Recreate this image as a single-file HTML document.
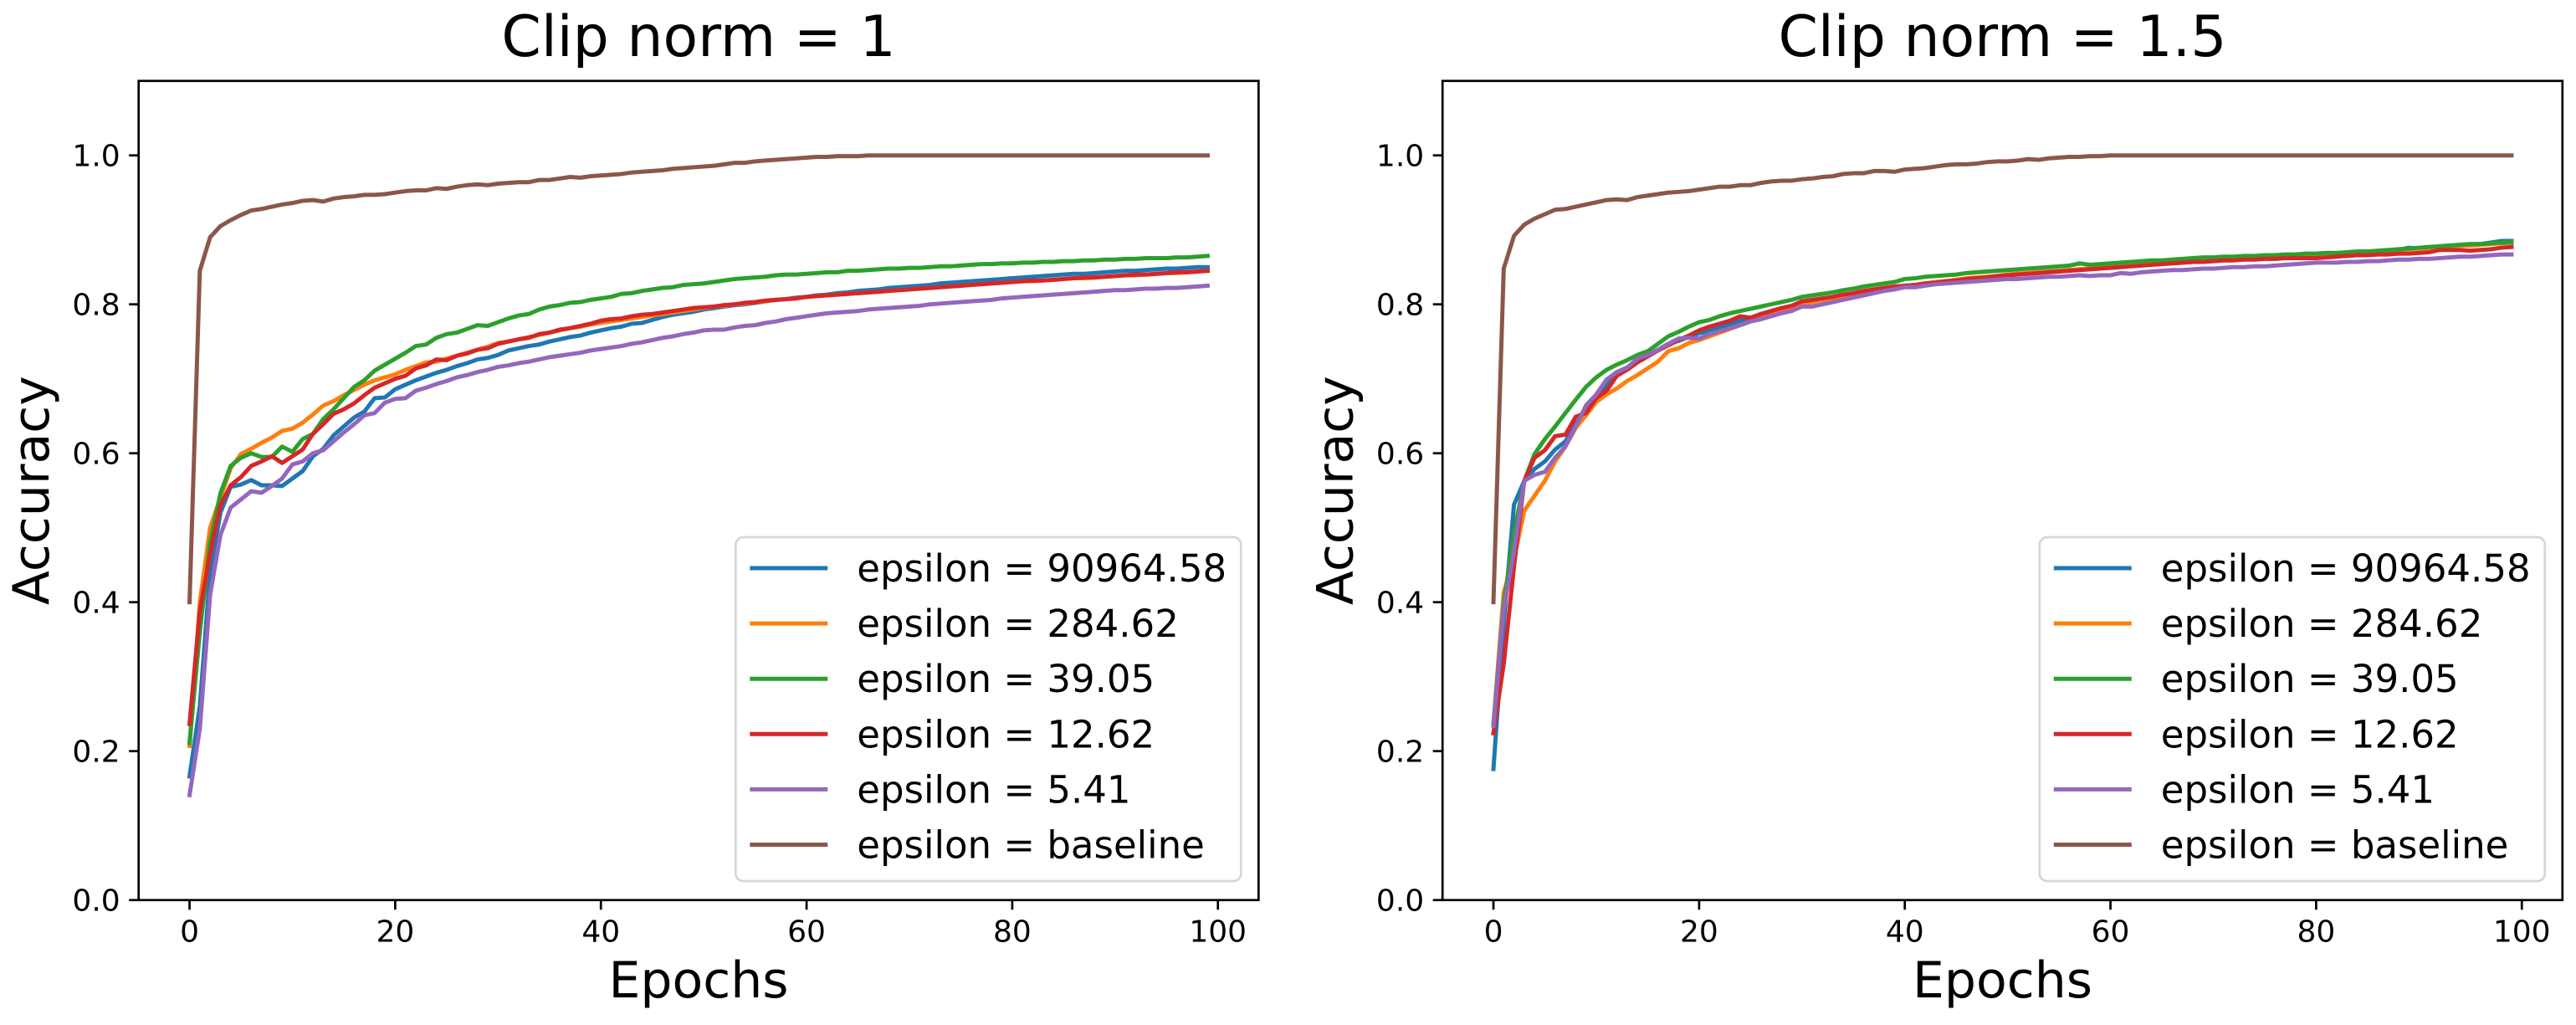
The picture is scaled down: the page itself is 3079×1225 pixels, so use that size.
<!DOCTYPE html>
<html><head><meta charset="utf-8">
<style>
html,body{margin:0;padding:0;background:#fff;}
svg{display:block;font-family:"DejaVu Sans","Liberation Sans",sans-serif;}
</style></head>
<body>
<svg id="fig" width="3079" height="1225" viewBox="0 0 3079 1225" xmlns="http://www.w3.org/2000/svg"></svg>
<script>
const epochs = Array.from({length:100},(_, i)=>i);
const seriesLabels = ["epsilon = 90964.58","epsilon = 284.62","epsilon = 39.05","epsilon = 12.62","epsilon = 5.41","epsilon = baseline"];
const seriesColors = ["#1f77b4","#ff7f0e","#2ca02c","#d62728","#9467bd","#8c564b"];
const xTicks = [0,20,40,60,80,100];
const yTicks = [0,0.2,0.4,0.6,0.8,1.0];
const yTickLabels = ["0.0","0.2","0.4","0.6","0.8","1.0"];
const panelTitles = ["Clip norm = 1","Clip norm = 1.5"];

const c1Blue = [.166,.26,.44,.52,.555,.558,.564,.557,.557,.556,.566,.576,.596,.606,.624,.636,.648,.656,.674,.675,.686,.692,.698,.703,.708,.712,.717,.721,.726,.728,.732,.738,.741,.744,.746,.750,.753,.756,.758,.762,.765,.768,.770,.774,.775,.779,.783,.786,.788,.790,.793,.795,.797,.799,.800,.802,.804,.806,.807,.809,.810,.812,.813,.815,.816,.818,.819,.820,.822,.823,.824,.825,.826,.828,.829,.830,.831,.832,.833,.834,.835,.836,.837,.838,.839,.840,.841,.841,.842,.843,.844,.845,.845,.846,.847,.848,.848,.849,.850,.850];
const c1Orange = [.207,.40,.50,.54,.58,.599,.606,.614,.621,.630,.633,.641,.652,.664,.670,.678,.685,.692,.698,.702,.706,.712,.717,.722,.723,.727,.731,.735,.739,.743,.748,.750,.753,.756,.759,.762,.765,.768,.770,.773,.775,.777,.779,.781,.783,.785,.787,.789,.791,.793,.795,.797,.798,.800,.801,.803,.804,.806,.807,.808,.810,.811,.812,.813,.814,.815,.816,.817,.818,.819,.820,.821,.822,.823,.824,.825,.826,.827,.828,.829,.830,.831,.831,.832,.833,.834,.835,.835,.836,.837,.838,.839,.839,.840,.841,.842,.842,.843,.844,.845];
const c1Green = [.211,.36,.48,.546,.583,.594,.600,.595,.595,.609,.602,.619,.626,.646,.659,.674,.689,.698,.711,.719,.727,.735,.744,.746,.755,.760,.762,.767,.772,.771,.776,.781,.785,.787,.793,.797,.799,.802,.803,.806,.808,.810,.814,.815,.818,.820,.822,.823,.826,.827,.828,.830,.832,.834,.835,.836,.837,.839,.840,.840,.841,.842,.843,.843,.845,.845,.846,.847,.848,.848,.849,.849,.850,.851,.851,.852,.853,.854,.854,.855,.855,.856,.856,.857,.857,.858,.858,.859,.859,.860,.860,.861,.861,.862,.862,.862,.863,.863,.864,.865];
const c1Red = [.2365,.388,.465,.53,.557,.568,.583,.589,.596,.587,.596,.605,.626,.639,.653,.659,.667,.678,.688,.694,.700,.704,.714,.718,.726,.725,.731,.734,.739,.741,.747,.750,.753,.755,.760,.762,.766,.768,.771,.774,.778,.780,.781,.784,.786,.787,.789,.791,.793,.795,.796,.797,.799,.800,.802,.803,.805,.806,.807,.808,.810,.811,.812,.813,.814,.815,.816,.817,.818,.819,.820,.821,.822,.823,.824,.825,.826,.827,.828,.829,.830,.831,.832,.832,.833,.834,.835,.836,.836,.837,.838,.839,.840,.840,.841,.842,.843,.843,.844,.845];
const c1Purple = [.141,.23,.41,.49,.527,.538,.549,.547,.556,.566,.585,.589,.600,.604,.616,.628,.639,.651,.654,.668,.673,.674,.684,.688,.693,.697,.702,.705,.709,.712,.716,.718,.721,.723,.726,.729,.731,.733,.735,.738,.740,.742,.744,.747,.749,.752,.755,.757,.760,.762,.765,.766,.766,.769,.771,.772,.775,.777,.780,.782,.784,.786,.788,.789,.790,.791,.793,.794,.795,.796,.797,.798,.800,.801,.802,.803,.804,.805,.806,.808,.809,.810,.811,.812,.813,.814,.815,.816,.817,.818,.819,.819,.820,.821,.821,.822,.822,.823,.824,.825];
const c1Base = [.40,.845,.89,.905,.913,.920,.926,.928,.931,.934,.936,.939,.940,.938,.942,.944,.945,.947,.947,.948,.950,.952,.953,.953,.956,.955,.958,.960,.961,.960,.962,.963,.964,.964,.967,.967,.969,.971,.970,.972,.973,.974,.975,.977,.978,.979,.980,.982,.983,.984,.985,.986,.988,.990,.990,.992,.993,.994,.995,.996,.997,.998,.998,.999,.999,.999,1,1,1,1,1,1,1,1,1,1,1,1,1,1,1,1,1,1,1,1,1,1,1,1,1,1,1,1,1,1,1,1,1,1];

const c2Blue = [.176,.372,.531,.563,.579,.589,.605,.616,.639,.659,.677,.692,.709,.715,.724,.732,.739,.747,.751,.756,.761,.765,.769,.773,.778,.782,.786,.790,.794,.797,.801,.803,.806,.808,.811,.813,.816,.818,.820,.822,.825,.826,.828,.829,.831,.832,.834,.835,.837,.838,.840,.841,.842,.843,.844,.845,.846,.847,.848,.849,.850,.851,.852,.853,.854,.855,.855,.856,.857,.858,.858,.859,.860,.861,.861,.862,.863,.863,.864,.864,.864,.866,.867,.868,.869,.870,.871,.872,.873,.876,.875,.876,.877,.878,.879,.880,.881,.883,.885,.885];
const c2Orange = [.236,.413,.458,.523,.543,.563,.589,.609,.634,.651,.669,.679,.687,.697,.705,.714,.723,.737,.741,.748,.752,.757,.762,.767,.772,.777,.781,.785,.790,.795,.801,.803,.806,.808,.811,.813,.816,.818,.820,.822,.825,.826,.828,.830,.831,.833,.835,.836,.837,.838,.840,.841,.842,.843,.844,.845,.846,.847,.848,.849,.850,.852,.853,.854,.855,.856,.857,.858,.859,.860,.860,.861,.862,.862,.863,.864,.864,.865,.865,.866,.866,.867,.868,.869,.869,.870,.871,.872,.873,.874,.875,.876,.877,.878,.879,.879,.880,.881,.882,.883];
const c2Green = [.236,.398,.493,.563,.599,.619,.636,.654,.672,.689,.702,.712,.719,.725,.732,.737,.747,.757,.763,.770,.776,.779,.784,.788,.791,.794,.797,.800,.803,.806,.810,.812,.814,.816,.819,.821,.824,.826,.828,.830,.834,.835,.837,.838,.839,.840,.842,.843,.844,.845,.846,.847,.848,.849,.850,.851,.852,.855,.853,.854,.855,.856,.857,.858,.859,.859,.860,.861,.862,.863,.863,.864,.864,.865,.865,.866,.866,.867,.867,.868,.868,.869,.869,.870,.871,.871,.872,.873,.874,.875,.876,.877,.878,.879,.880,.881,.881,.882,.883,.883];
const c2Red = [.224,.317,.448,.563,.594,.604,.623,.625,.649,.654,.674,.684,.704,.712,.722,.730,.738,.745,.752,.758,.765,.770,.774,.778,.784,.782,.787,.791,.795,.798,.804,.806,.808,.810,.813,.815,.818,.820,.822,.824,.825,.826,.828,.829,.831,.832,.834,.835,.836,.838,.839,.840,.841,.842,.843,.844,.845,.846,.847,.848,.849,.850,.851,.852,.853,.854,.855,.856,.857,.857,.858,.859,.859,.860,.860,.861,.861,.862,.862,.862,.862,.863,.864,.865,.866,.866,.867,.867,.868,.868,.869,.870,.873,.873,.873,.872,.873,.874,.876,.877];
const c2Purple = [.234,.392,.468,.563,.571,.575,.594,.609,.636,.664,.679,.699,.709,.715,.727,.732,.739,.747,.754,.755,.754,.760,.764,.768,.772,.777,.780,.784,.788,.791,.797,.797,.800,.803,.806,.809,.812,.815,.818,.820,.823,.823,.825,.827,.828,.829,.830,.831,.832,.833,.834,.834,.835,.836,.837,.837,.838,.839,.838,.839,.839,.842,.841,.843,.844,.845,.846,.846,.847,.848,.848,.849,.850,.850,.851,.851,.852,.853,.854,.855,.856,.856,.856,.857,.857,.858,.858,.859,.860,.860,.861,.861,.862,.863,.864,.864,.865,.866,.867,.867];
const c2Base = [.40,.848,.892,.907,.915,.921,.927,.928,.931,.934,.937,.940,.941,.940,.944,.946,.948,.950,.951,.952,.954,.956,.958,.958,.960,.960,.963,.965,.966,.966,.968,.969,.971,.972,.975,.976,.976,.979,.979,.978,.981,.982,.983,.985,.987,.988,.988,.989,.991,.992,.992,.993,.995,.994,.996,.997,.998,.998,.999,.999,1,1,1,1,1,1,1,1,1,1,1,1,1,1,1,1,1,1,1,1,1,1,1,1,1,1,1,1,1,1,1,1,1,1,1,1,1,1,1,1];

const panel1Series = [c1Blue,c1Orange,c1Green,c1Red,c1Purple,c1Base];
const panel2Series = [c2Blue,c2Orange,c2Green,c2Red,c2Purple,c2Base];

const NS = "http://www.w3.org/2000/svg";
const svg = document.getElementById("fig");
function mk(tag, attrs, parent){
  const e = document.createElementNS(NS, tag);
  for (const k in attrs) e.setAttribute(k, attrs[k]);
  (parent||svg).appendChild(e);
  return e;
}
const AX_W = 1338.6, AX_H = 979, AX_TOP = 96.7;
const X_MIN = -4.95, X_MAX = 103.95, Y_MIN = 0, Y_MAX = 1.1;

function drawPanel(idx, left, series, title){
  const g = mk("g", {});
  
  
  const xs = v => left + (v - X_MIN)/(X_MAX - X_MIN)*AX_W;
  const ys = v => AX_TOP + AX_H - (v - Y_MIN)/(Y_MAX - Y_MIN)*AX_H;
  const bottom = AX_TOP + AX_H;

  series.forEach((vals, s) => {
    const d = vals.map((v,i)=> (i?"L":"M") + xs(epochs[i]).toFixed(2) + " " + ys(v).toFixed(2)).join(" ");
    const p = mk("path", {d:d, fill:"none", stroke:seriesColors[s], "stroke-width":5, "stroke-linejoin":"round", "stroke-linecap":"square"}, g);
    
    
  });

  const fr = mk("rect", {x:left, y:AX_TOP, width:AX_W, height:AX_H, fill:"none", stroke:"#000", "stroke-width":2.7}, g);
  
  

  xTicks.forEach(t => {
    const x = xs(t);
    const tk = mk("line", {x1:x, x2:x, y1:bottom, y2:bottom+11.5, stroke:"#000", "stroke-width":2.7}, g);
    
    
    const tl = mk("text", {x:x, y:bottom+50, "font-size":36, "text-anchor":"middle", fill:"#000"}, g);
    
    
    tl.textContent = String(t);
  });
  yTicks.forEach((t,i) => {
    const y = ys(t);
    const tk = mk("line", {x1:left-11.5, x2:left, y1:y, y2:y, stroke:"#000", "stroke-width":2.7}, g);
    
    
    const tl = mk("text", {x:left-22, y:y+13, "font-size":36, "text-anchor":"end", fill:"#000"}, g);
    
    
    tl.textContent = yTickLabels[i];
  });

  const tt = mk("text", {x:left+AX_W/2, y:67, "font-size":68, "text-anchor":"middle", fill:"#000"}, g);
  
  
  tt.textContent = title;

  const xl = mk("text", {x:left+AX_W/2, y:1192, "font-size":60, "text-anchor":"middle", fill:"#000"}, g);
  
  
  xl.textContent = "Epochs";

  const lx = left - 107.7, ly = AX_TOP + AX_H/2;
  const yl = mk("text", {x:lx, y:ly, "font-size":60, "text-anchor":"middle", fill:"#000", transform:"rotate(-90 "+lx+" "+ly+")"}, g);
  
  
  yl.textContent = "Accuracy";

  const lgLeft = left + AX_W - 21 - 604, lgTop = 642, lgW = 604, lgH = 411;
  const lg = mk("g", {}, g);
  
  
  const box = mk("rect", {x:lgLeft, y:lgTop, width:lgW, height:lgH, rx:9, ry:9, fill:"#fff", "fill-opacity":0.8, stroke:"#d6d6d6", "stroke-width":2.7}, lg);
  
  
  seriesLabels.forEach((lab, s) => {
    const cy = 679 + s*66.1;
    const ent = mk("g", {}, lg);
    
    
    const hl = mk("line", {x1:lgLeft+17, x2:lgLeft+110, y1:cy, y2:cy, stroke:seriesColors[s], "stroke-width":5}, ent);
    
    
    const lt = mk("text", {x:lgLeft+145, y:cy+16, "font-size":45, fill:"#000"}, ent);
    
    
    lt.textContent = lab;
  });
}
drawPanel(0, 165.7, panel1Series, panelTitles[0]);
drawPanel(1, 1724.2, panel2Series, panelTitles[1]);
</script>
</body></html>
